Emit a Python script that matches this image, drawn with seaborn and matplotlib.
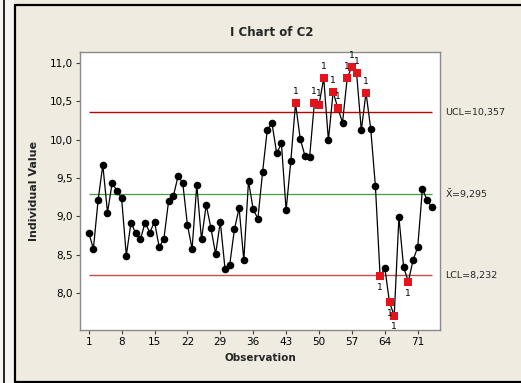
import matplotlib
matplotlib.use("Agg")
import matplotlib.pyplot as plt
import matplotlib.transforms as mtransforms
from matplotlib.patches import Rectangle
from matplotlib.lines import Line2D
import seaborn as sns
import pandas as pd
import numpy as np

# ---- data ----
values = [8.79, 8.58, 9.21, 9.67, 9.05, 9.44, 9.33, 9.24, 8.49, 8.92,
          8.78, 8.70, 8.92, 8.79, 8.93, 8.60, 8.71, 9.20, 9.26, 9.52,
          9.44, 8.89, 8.58, 9.41, 8.70, 9.15, 8.85, 8.51, 8.93, 8.32,
          8.37, 8.83, 9.11, 8.43, 9.46, 9.09, 8.97, 9.58, 10.13, 10.21,
          9.82, 9.95, 9.08, 9.72, 10.47, 10.01, 9.79, 9.77, 10.47, 10.45,
          10.80, 9.99, 10.62, 10.41, 10.22, 10.80, 10.95, 10.86, 10.12, 10.61,
          10.14, 9.39, 8.22, 8.33, 7.88, 7.71, 8.99, 8.34, 8.15, 8.43,
          8.60, 9.36, 9.21, 9.12]
observations = list(range(1, len(values) + 1))
ucl = 10.357
center = 9.295
lcl = 8.232
ucl_label = "UCL=10,357"
center_label = r"$\bar{X}$=9,295"
lcl_label = "LCL=8,232"
xticks = [1, 8, 15, 22, 29, 36, 43, 50, 57, 64, 71]
yticks = [8.0, 8.5, 9.0, 9.5, 10.0, 10.5, 11.0]
ytick_labels = ["8,0", "8,5", "9,0", "9,5", "10,0", "10,5", "11,0"]
title = "I Chart of C2"
xlabel = "Observation"
ylabel = "Individual Value"

df = pd.DataFrame({"obs": observations, "val": values})
df["flag"] = (df["val"] > ucl) | (df["val"] < lcl)

sns.set_style("white")
plt.rcParams["font.family"] = ["DejaVu Sans"]
plt.rcParams["mathtext.default"] = "regular"

W, H = 521, 383
bg = "#EFEBE1"
fig = plt.figure(figsize=(W / 100, H / 100), dpi=100, facecolor=bg)

def fx(px):
    return px / W

def fy(py):
    return 1 - py / H

# outer frame decorations
fig.add_artist(Rectangle((0, 0), fx(14), 1, transform=fig.transFigure,
                         facecolor="#F7F5F0", edgecolor="none", zorder=0))
fig.add_artist(Line2D([fx(3.5), fx(3.5)], [0, 1], transform=fig.transFigure,
                      color="black", lw=1.2))
fig.add_artist(Line2D([fx(15), fx(15)], [fy(4.5), fy(381.5)], transform=fig.transFigure,
                      color="black", lw=1.6))
fig.add_artist(Line2D([fx(15), 1], [fy(4.5), fy(4.5)], transform=fig.transFigure,
                      color="black", lw=1.6))
fig.add_artist(Line2D([fx(15), 1], [fy(381.5), fy(381.5)], transform=fig.transFigure,
                      color="black", lw=1.6))

ax = fig.add_axes([fx(80), fy(330), (440 - 80) / W, (330 - 52) / H])
ax.set_facecolor("white")

# control lines
ax.hlines(ucl, 1, len(values), color="#C00000", lw=1.0, zorder=1)
ax.hlines(lcl, 1, len(values), color="#C0504D", lw=1.0, zorder=1)
ax.hlines(center, 1, len(values), color="#3DA23D", lw=0.9, zorder=1)

sns.lineplot(data=df, x="obs", y="val", color="black", lw=0.9, ax=ax,
             zorder=2, estimator=None)
ok = df[~df["flag"]]
bad = df[df["flag"]]
sns.scatterplot(data=ok, x="obs", y="val", color="black", s=30, marker="o",
                edgecolor="black", linewidth=0, ax=ax, zorder=3)
sns.scatterplot(data=bad, x="obs", y="val", color="#E3141B", s=30, marker="s",
                edgecolor="#E3141B", linewidth=0, ax=ax, zorder=3)

for _, r in bad.iterrows():
    if r["val"] > ucl:
        ax.annotate("1", (r["obs"], r["val"]), xytext=(0, 5), textcoords="offset points",
                    ha="center", va="bottom", fontsize=6.5, color="black")
    else:
        ax.annotate("1", (r["obs"], r["val"]), xytext=(0, -5), textcoords="offset points",
                    ha="center", va="top", fontsize=6.5, color="black")

ax.set_xlim(-0.85, 75.74)
ax.set_ylim(7.522, 11.139)
ax.set_xticks(xticks)
ax.set_xticklabels([str(t) for t in xticks])
ax.set_yticks(yticks)
ax.set_yticklabels(ytick_labels)
ax.tick_params(axis="both", which="both", direction="out", length=3, width=0.8,
               color="#404040", labelsize=7.5, labelcolor="black", pad=2,
               bottom=True, left=True)
for s in ax.spines.values():
    s.set_color("#8A8A8A")
    s.set_linewidth(1.0)
ax.set_xlabel("")
ax.set_ylabel("")

# side labels
trans = mtransforms.blended_transform_factory(ax.transAxes, ax.transData)
xt = (445 - 80) / 360
ax.text(xt, ucl, ucl_label, transform=trans, ha="left", va="center", fontsize=6.8)
ax.text(xt, center, center_label, transform=trans, ha="left", va="center", fontsize=6.8)
ax.text(xt, lcl, lcl_label, transform=trans, ha="left", va="center", fontsize=6.8)

fig.text(fx(272), fy(33), title, ha="center", va="center", fontsize=8.5, fontweight="bold")
fig.text(fx(260), fy(358), xlabel, ha="center", va="center", fontsize=7.5, fontweight="bold")
fig.text(fx(34), fy(191), ylabel, ha="center", va="center", fontsize=8,
         fontweight="bold", rotation=90)

fig.savefig("out.png", dpi=100, facecolor=bg)
